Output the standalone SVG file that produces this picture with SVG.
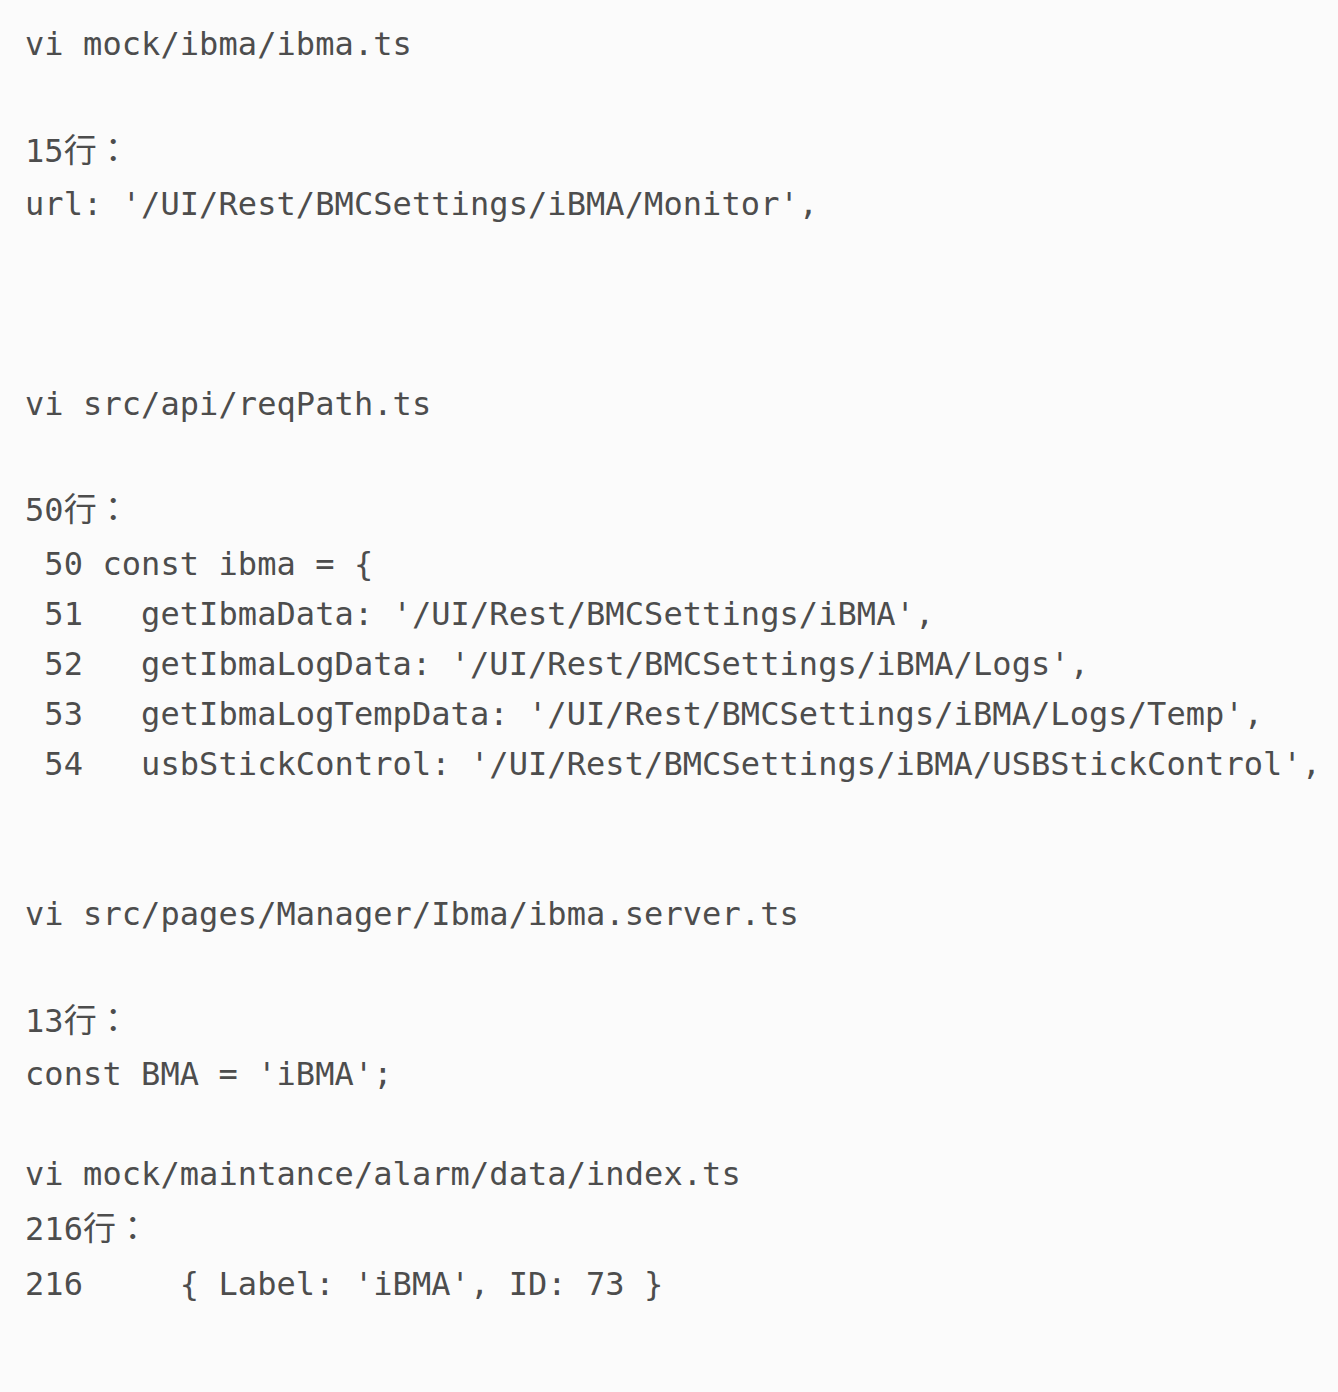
<svg xmlns="http://www.w3.org/2000/svg" width="1338" height="1392" viewBox="0 0 1338 1392">
<style>
text{font-family:"DejaVu Sans Mono","Noto Sans CJK JP",monospace;font-size:32px;letter-spacing:0.08px;fill:#4d4d4d;white-space:pre}
.cjk{font-family:"Noto Sans CJK JP","Noto Sans CJK TC",sans-serif;font-size:33px}
</style>
<rect width="1338" height="1392" fill="#fbfbfb"/>
<g id="text">
<text x="25" y="55" xml:space="preserve">vi mock/ibma/ibma.ts</text>
<text x="25" y="162" xml:space="preserve">15<tspan class="cjk">行：</tspan></text>
<text x="25" y="215" xml:space="preserve">url: '/UI/Rest/BMCSettings/iBMA/Monitor',</text>
<text x="25" y="415" xml:space="preserve">vi src/api/reqPath.ts</text>
<text x="25" y="521" xml:space="preserve">50<tspan class="cjk">行：</tspan></text>
<text x="25" y="575" xml:space="preserve"> 50 const ibma = {</text>
<text x="25" y="625" xml:space="preserve"> 51   getIbmaData: '/UI/Rest/BMCSettings/iBMA',</text>
<text x="25" y="675" xml:space="preserve"> 52   getIbmaLogData: '/UI/Rest/BMCSettings/iBMA/Logs',</text>
<text x="25" y="725" xml:space="preserve"> 53   getIbmaLogTempData: '/UI/Rest/BMCSettings/iBMA/Logs/Temp',</text>
<text x="25" y="775" xml:space="preserve"> 54   usbStickControl: '/UI/Rest/BMCSettings/iBMA/USBStickControl',</text>
<text x="25" y="925" xml:space="preserve">vi src/pages/Manager/Ibma/ibma.server.ts</text>
<text x="25" y="1032" xml:space="preserve">13<tspan class="cjk">行：</tspan></text>
<text x="25" y="1085" xml:space="preserve">const BMA = 'iBMA';</text>
<text x="25" y="1185" xml:space="preserve">vi mock/maintance/alarm/data/index.ts</text>
<text x="25" y="1240" xml:space="preserve">216<tspan class="cjk">行：</tspan></text>
<text x="25" y="1295" xml:space="preserve">216     { Label: 'iBMA', ID: 73 }</text>
</g>
</svg>
